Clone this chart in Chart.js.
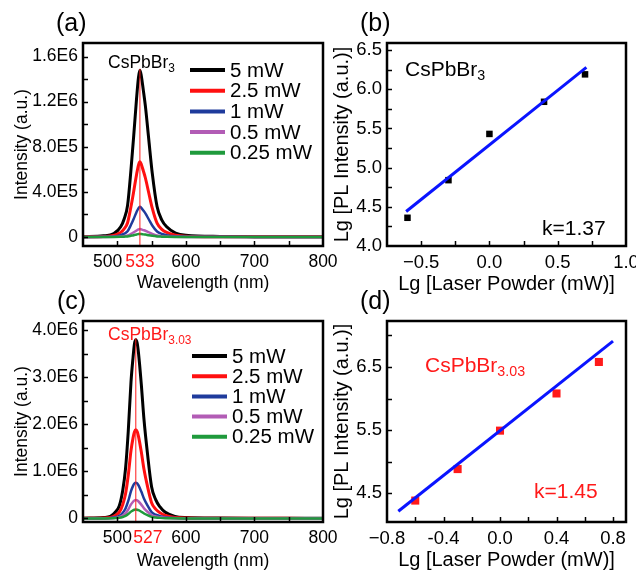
<!DOCTYPE html>
<html>
<head>
<meta charset="utf-8">
<script src="https://cdn.jsdelivr.net/npm/chart.js@4.4.1/dist/chart.umd.min.js"></script>
<style>
  html, body { margin: 0; padding: 0; background: #fff; }
  #wrap { position: relative; width: 636px; height: 573px; overflow: hidden; background: #fff;
          font-family: 'Liberation Sans', Arial, sans-serif; }
  #wrap canvas { position: absolute; left: 0; top: 0; }
  .txt { position: absolute; line-height: 1; white-space: nowrap; color: #000; }
  .txt sub { font-size: 0.68em; vertical-align: baseline; position: relative; top: 0.3em; }
  .red { color: #ff1a1a; }
</style>
</head>
<body>
<div id="wrap">
  <canvas id="chartA" width="660" height="573"></canvas>
  <canvas id="chartB" width="660" height="573"></canvas>
  <canvas id="chartC" width="660" height="573"></canvas>
  <canvas id="chartD" width="660" height="573"></canvas>

  <div class="txt" style="left:56px;top:10px;font-size:25px">(a)</div>
  <div class="txt" style="left:360px;top:10px;font-size:25px">(b)</div>
  <div class="txt" style="left:57px;top:288px;font-size:25px">(c)</div>
  <div class="txt" style="left:360px;top:288px;font-size:25px">(d)</div>

  <div class="txt" style="left:108px;top:54px;font-size:17.5px">CsPbBr<sub>3</sub></div>
  <div class="txt red" style="left:108px;top:326px;font-size:17.5px">CsPbBr<sub>3.03</sub></div>
  <div class="txt" style="left:405px;top:58px;font-size:21px">CsPbBr<sub>3</sub></div>
  <div class="txt" style="left:542px;top:217px;font-size:21px">k=1.37</div>
  <div class="txt red" style="left:425px;top:354px;font-size:21px">CsPbBr<sub>3.03</sub></div>
  <div class="txt red" style="left:534px;top:480px;font-size:21px">k=1.45</div>
</div>

<script>
// ---- data ----

// (a) CsPbBr3 PL spectra
const wlA = [450, 480, 495, 505, 510, 515, 520, 524, 528, 531, 533, 535, 538, 541, 546, 551, 558, 565, 572, 585, 600, 650, 700, 750, 800];
const a5mW = [3e3, 1.0e4, 3.0e4, 9.0e4, 1.6e5, 2.8e5, 6.0e5, 9.0e5, 1.22e6, 1.42e6, 1.478e6, 1.43e6, 1.30e6, 1.16e6, 8.6e5, 5.66e5, 2.7e5, 1.5e5, 9.0e4, 3.5e4, 1.5e4, 5e3, 3e3, 2e3, 2e3];
const a2p5mW = [1.4e3, 4.5e3, 1.35e4, 4.1e4, 7.2e4, 1.26e5, 2.7e5, 4.06e5, 5.5e5, 6.4e5, 6.67e5, 6.45e5, 5.86e5, 5.23e5, 3.88e5, 2.55e5, 1.22e5, 6.8e4, 4.1e4, 1.6e4, 7e3, 2e3, 1e3, 1e3, 1e3];
const a1mW = [5e2, 2e3, 5e3, 1.6e4, 2.9e4, 5.0e4, 1.08e5, 1.62e5, 2.2e5, 2.56e5, 2.67e5, 2.58e5, 2.34e5, 2.09e5, 1.55e5, 1.02e5, 4.9e4, 2.7e4, 1.6e4, 6e3, 3e3, 1e3, 5e2, 5e2, 5e2];
const a0p5mW = [2e2, 5e2, 1.4e3, 4.2e3, 7.5e3, 1.3e4, 2.8e4, 4.2e4, 5.7e4, 6.7e4, 7.0e4, 6.7e4, 6.1e4, 5.5e4, 4.0e4, 2.7e4, 1.3e4, 7e3, 4e3, 1.6e3, 7e2, 2e2, 2e2, 2e2, 2e2];
const a0p25mW = [1e2, 2e2, 5e2, 1.6e3, 3e3, 5e3, 1.1e4, 1.6e4, 2.2e4, 2.6e4, 2.7e4, 2.6e4, 2.3e4, 2.1e4, 1.5e4, 1.0e4, 5e3, 3e3, 1.6e3, 6e2, 3e2, 1e2, 1e2, 1e2, 1e2];
const peakA = 533;
const peakTopA = 1.49e6;

// (c) CsPbBr3.03 PL spectra
const wlC = [450, 480, 490, 498, 503, 508, 512, 516, 520, 523, 525, 527, 529, 531, 535, 539, 544, 550, 556, 562, 570, 584, 600, 650, 700, 750, 800];
const c5mW = [5e3, 2e4, 4.5e4, 1.5e5, 2.7e5, 6.0e5, 1.05e6, 1.85e6, 2.9e6, 3.42e6, 3.7e6, 3.79e6, 3.72e6, 3.5e6, 2.85e6, 2.09e6, 1.38e6, 6.75e5, 4.0e5, 2.5e5, 1.3e5, 4.5e4, 2e4, 8e3, 5e3, 4e3, 3e3];
const c2p5mW = [2.5e3, 1e4, 2.2e4, 7.4e4, 1.34e5, 2.98e5, 5.2e5, 9.18e5, 1.44e6, 1.71e6, 1.835e6, 1.88e6, 1.845e6, 1.736e6, 1.414e6, 1.037e6, 6.85e5, 3.35e5, 1.98e5, 1.24e5, 6.4e4, 2.2e4, 1e4, 4e3, 2.5e3, 2e3, 1.5e3];
const c1mW = [1e3, 4e3, 9e3, 3.0e4, 5.4e4, 1.2e5, 2.1e5, 3.71e5, 5.81e5, 6.92e5, 7.42e5, 7.6e5, 7.46e5, 7.02e5, 5.71e5, 4.19e5, 2.77e5, 1.35e5, 8.0e4, 5.0e4, 2.6e4, 9e3, 4e3, 1.6e3, 1e3, 8e2, 6e2];
const c0p5mW = [5e2, 2e3, 4.6e3, 1.54e4, 2.8e4, 6.2e4, 1.08e5, 1.9e5, 2.98e5, 3.55e5, 3.81e5, 3.9e5, 3.83e5, 3.6e5, 2.93e5, 2.15e5, 1.42e5, 6.9e4, 4.1e4, 2.6e4, 1.3e4, 4.6e3, 2e3, 8e2, 5e2, 4e2, 3e2];
const c0p25mW = [3e2, 1e3, 2.3e3, 7.5e3, 1.35e4, 3.0e4, 5.3e4, 9.3e4, 1.45e5, 1.73e5, 1.85e5, 1.9e5, 1.86e5, 1.75e5, 1.43e5, 1.05e5, 6.9e4, 3.4e4, 2.0e4, 1.25e4, 6.5e3, 2.3e3, 1e3, 4e2, 2.5e2, 2e2, 1.5e2];
const peakC = 527;
const peakTopC = 3.83e6;

const powerLabels = ['5 mW', '2.5 mW', '1 mW', '0.5 mW', '0.25 mW'];

// (b), (d) log-log plots
const lgPower = [-0.60, -0.30, 0.00, 0.40, 0.70];
const lgIntB = [4.36, 4.84, 5.43, 5.84, 6.19];
const fitBx = [-0.61, 0.71];
const fitBy = [4.44, 6.28];
const lgIntD = [4.38, 4.88, 5.49, 6.08, 6.58];
const fitDx = [-0.72, 0.80];
const fitDy = [4.21, 6.91];

// tick values and labels
const xTicksA = [500, 533, 600, 700, 800];
const xLabelsA = ['500', '533', '600', '700', '800'];
const xTicksC = [500, 527, 600, 700, 800];
const xLabelsC = ['500', '527', '600', '700', '800'];
const xMarksSpec = [500, 550, 600, 650, 700, 750];
const yTicksA = [0, 4e5, 8e5, 1.2e6, 1.6e6];
const yLabelsA = ['0', '4.0E5', '8.0E5', '1.2E6', '1.6E6'];
const yMarksA = [0, 2e5, 4e5, 6e5, 8e5, 1e6, 1.2e6, 1.4e6, 1.6e6];
const yTicksC = [0, 1e6, 2e6, 3e6, 4e6];
const yLabelsC = ['0', '1.0E6', '2.0E6', '3.0E6', '4.0E6'];
const yMarksC = [0, 5e5, 1e6, 1.5e6, 2e6, 2.5e6, 3e6, 3.5e6, 4e6];
const xTicksB = [-0.5, 0, 0.5, 1.0];
const xLabelsB = ['\u22120.5', '0.0', '0.5', '1.0'];
const xMarksB = [-0.5, -0.25, 0, 0.25, 0.5, 0.75];
const yTicksB = [4.0, 4.5, 5.0, 5.5, 6.0, 6.5];
const yLabelsB = ['4.0', '4.5', '5.0', '5.5', '6.0', '6.5'];
const yMarksB = [4.25, 4.5, 4.75, 5.0, 5.25, 5.5, 5.75, 6.0, 6.25, 6.5];
const xTicksD = [-0.8, -0.4, 0, 0.4, 0.8];
const xLabelsD = ['\u22120.8', '-0.4', '0.0', '0.4', '0.8'];
const xMarksD = [-0.6, -0.4, -0.2, 0, 0.2, 0.4, 0.6, 0.8];
const yTicksD = [4.5, 5.5, 6.5];
const yLabelsD = ['4.5', '5.5', '6.5'];
const yMarksD = [4.5, 5.0, 5.5, 6.0, 6.5, 7.0];

// ---- drawing ----
const RED = '#ff1a1a';
const specColors = ['#000000', '#ff1010', '#1f3b9c', '#b25cb5', '#1f9a3c'];
const specWidths = [3, 3, 2.5, 2.5, 2.5];

Chart.defaults.font.family = "'Liberation Sans', Arial, sans-serif";
Chart.defaults.color = '#000';

const pts = (xs, ys) => xs.map((x, i) => ({ x: x, y: ys[i] }));

// inward tick marks + heavy frame
const frameTicks = {
  id: 'frameTicks',
  afterDatasetsDraw(chart, args, opts) {
    const { ctx, chartArea: a, scales } = chart;
    ctx.save();
    ctx.strokeStyle = '#000';
    ctx.lineWidth = 1.5;
    (opts.x || []).forEach(v => {
      const px = Math.round(scales.x.getPixelForValue(v)) + 0.5;
      ctx.beginPath(); ctx.moveTo(px, a.bottom); ctx.lineTo(px, a.bottom - 5); ctx.stroke();
    });
    (opts.y || []).forEach(v => {
      const py = Math.round(scales.y.getPixelForValue(v)) + 0.5;
      ctx.beginPath(); ctx.moveTo(a.left, py); ctx.lineTo(a.left + 5, py); ctx.stroke();
    });
    ctx.lineWidth = 2.5;
    ctx.strokeRect(a.left, a.top, a.right - a.left, a.bottom - a.top);
    ctx.restore();
  }
};

// legend drawn inside the plot box
const innerLegend = {
  id: 'innerLegend',
  afterDraw(chart, args, o) {
    if (!o || o.x === undefined) return;
    const ctx = chart.ctx;
    ctx.save();
    ctx.font = o.size + "px 'Liberation Sans', Arial, sans-serif";
    ctx.textBaseline = 'middle';
    let row = 0;
    chart.data.datasets.forEach(ds => {
      if (!ds.label) return;
      const y = o.y + row * o.step;
      ctx.strokeStyle = ds.borderColor;
      ctx.lineWidth = 4;
      ctx.beginPath(); ctx.moveTo(o.x, y); ctx.lineTo(o.x + o.len, y); ctx.stroke();
      ctx.fillStyle = '#000';
      ctx.fillText(ds.label, o.x + o.len + 5, y + 1);
      row++;
    });
    ctx.restore();
  }
};

function axis(o) {
  return {
    type: 'linear',
    min: o.min,
    max: o.max,
    grid: { display: false, drawTicks: false },
    border: { display: false },
    afterBuildTicks: s => { s.ticks = o.ticks.map(v => ({ value: v })); },
    afterFit: s => { if (o.w) s.width = o.w; if (o.h) s.height = o.h; },
    ticks: {
      autoSkip: false, maxRotation: 0, minRotation: 0,
      padding: o.pad,
      font: { size: o.size },
      color: o.color || '#000',
      // spaces nudge crowded labels sideways, as in the original
      callback: (v, i) => (o.pre ? o.pre(v) : '') + o.labels[i] + (o.post ? o.post(v) : '')
    },
    title: {
      display: true, text: o.title, color: '#000',
      font: { size: o.titleSize },
      padding: o.titlePad
    }
  };
}

function baseOptions(o) {
  return {
    responsive: false,
    animation: false,
    devicePixelRatio: 1,
    layout: { padding: o.pad },
    plugins: {
      legend: { display: false },
      tooltip: { enabled: false },
      frameTicks: o.marks,
      innerLegend: o.legend || {}
    },
    scales: { x: axis(o.x), y: axis(o.y) }
  };
}

function spectrumSets(wl, series, peak, peakTop, yMin) {
  const sets = series.map((s, i) => ({
    label: powerLabels[i],
    data: pts(wl, s),
    borderColor: specColors[i],
    borderWidth: specWidths[i],
    pointRadius: 0,
    cubicInterpolationMode: 'monotone',
    order: 5 - i
  }));
  sets.push({
    data: pts([peak, peak], [yMin, peakTop]),
    borderColor: RED,
    borderWidth: 1,
    pointRadius: 0,
    order: 0
  });
  return sets;
}

// (a)
new Chart(document.getElementById('chartA'), {
  type: 'line',
  data: { datasets: spectrumSets(wlA, [a5mW, a2p5mW, a1mW, a0p5mW, a0p25mW], peakA, peakTopA, -8e4) },
  options: baseOptions({
    pad: { left: 0, top: 43, right: 337, bottom: 277 },
    marks: { x: xMarksSpec, y: yMarksA },
    legend: { x: 190, y: 70, step: 20.7, len: 35, size: 20.5 },
    x: { min: 450, max: 800, ticks: xTicksA, labels: xLabelsA, h: 50, pad: 6, size: 17.5,
         color: c => (c.tick && c.tick.value === peakA ? RED : '#000'),
         post: v => (v === 500 ? '    ' : ''),
         title: 'Wavelength (nm)', titleSize: 17.5, titlePad: { top: 0, bottom: 2 } },
    y: { min: -8e4, max: 1.72e6, ticks: yTicksA, labels: yLabelsA, w: 83, pad: 5, size: 17.5,
         title: 'Intensity (a.u.)', titleSize: 17.5, titlePad: { top: 12, bottom: 0 } }
  }),
  plugins: [frameTicks, innerLegend]
});

// (b)
new Chart(document.getElementById('chartB'), {
  type: 'scatter',
  data: {
    datasets: [
      { data: pts(lgPower, lgIntB), pointStyle: 'rect', pointRadius: 4.6, backgroundColor: '#000', borderWidth: 0, order: 1 },
      { data: pts(fitBx, fitBy), showLine: true, borderColor: '#0a14ff', borderWidth: 3, pointRadius: 0, order: 0 }
    ]
  },
  options: baseOptions({
    pad: { left: 330, top: 43, right: 34, bottom: 277 },
    marks: { x: xMarksB, y: yMarksB },
    x: { min: -0.75, max: 1.0, ticks: xTicksB, labels: xLabelsB, h: 50, pad: 6, size: 18.5,
         title: 'Lg [Laser Powder (mW)]', titleSize: 20, titlePad: { top: 0, bottom: 0 } },
    y: { min: 4.0, max: 6.59, ticks: yTicksB, labels: yLabelsB, w: 57, pad: 5, size: 18.5,
         title: 'Lg [PL Intensity (a.u.)]', titleSize: 20, titlePad: { top: 0, bottom: 0 } }
  }),
  plugins: [frameTicks]
});

// (c)
new Chart(document.getElementById('chartC'), {
  type: 'line',
  data: { datasets: spectrumSets(wlC, [c5mW, c2p5mW, c1mW, c0p5mW, c0p25mW], peakC, peakTopC, -7.5e4) },
  options: baseOptions({
    pad: { left: 0, top: 321, right: 337, bottom: 1 },
    marks: { x: xMarksSpec, y: yMarksC },
    legend: { x: 192, y: 356, step: 20.2, len: 35, size: 20.5 },
    x: { min: 450, max: 800, ticks: xTicksC, labels: xLabelsC, h: 50, pad: 6, size: 17.5,
         color: c => (c.tick && c.tick.value === peakC ? RED : '#000'),
         pre: v => (v === peakC ? '     ' : ''),
         title: 'Wavelength (nm)', titleSize: 17.5, titlePad: { top: 0, bottom: 0 } },
    y: { min: -7.5e4, max: 4.19e6, ticks: yTicksC, labels: yLabelsC, w: 83, pad: 5, size: 17.5,
         title: 'Intensity (a.u.)', titleSize: 17.5, titlePad: { top: 12, bottom: 0 } }
  }),
  plugins: [frameTicks, innerLegend]
});

// (d)
new Chart(document.getElementById('chartD'), {
  type: 'scatter',
  data: {
    datasets: [
      { data: pts(lgPower, lgIntD), pointStyle: 'rect', pointRadius: 5.7, backgroundColor: RED, borderWidth: 0, order: 1 },
      { data: pts(fitDx, fitDy), showLine: true, borderColor: '#0a14ff', borderWidth: 3, pointRadius: 0, order: 0 }
    ]
  },
  options: baseOptions({
    pad: { left: 330, top: 321, right: 34, bottom: 1 },
    marks: { x: xMarksD, y: yMarksD },
    x: { min: -0.8, max: 0.892, ticks: xTicksD, labels: xLabelsD, h: 50, pad: 6, size: 18.5,
         title: 'Lg [Laser Powder (mW)]', titleSize: 20, titlePad: { top: 0, bottom: 0 } },
    y: { min: 4.04, max: 7.23, ticks: yTicksD, labels: yLabelsD, w: 57, pad: 5, size: 18.5,
         title: 'Lg [PL Intensity (a.u.)]', titleSize: 20, titlePad: { top: 0, bottom: 0 } }
  }),
  plugins: [frameTicks]
});
</script>
</body>
</html>
